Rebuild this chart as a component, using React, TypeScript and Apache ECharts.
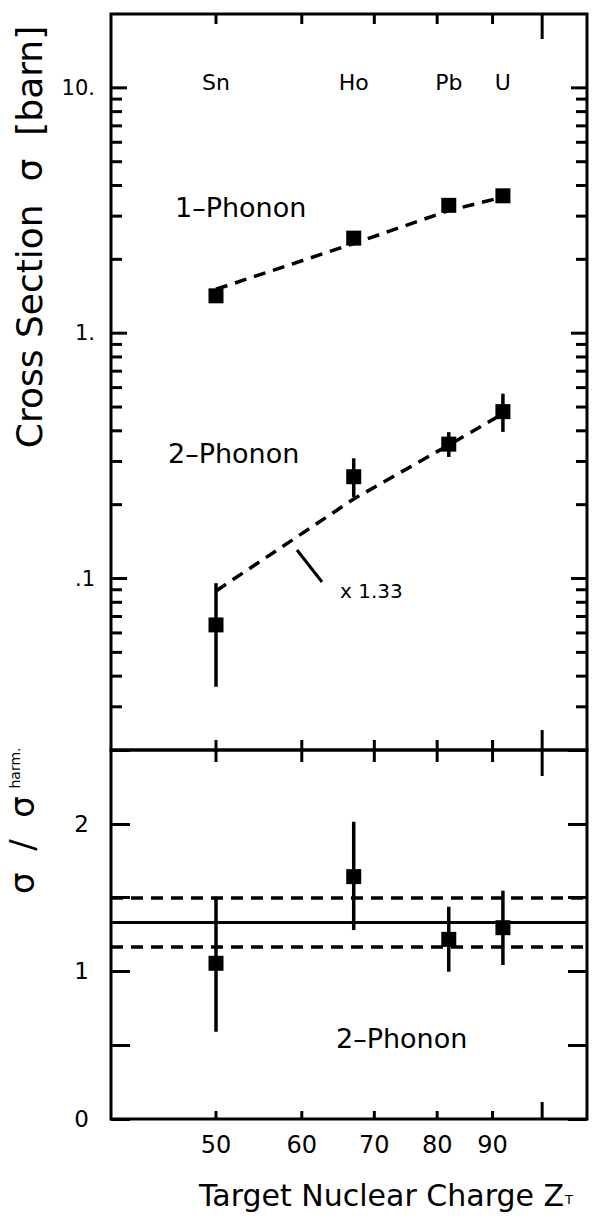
import React, { useEffect, useRef } from 'react';
import * as echarts from 'echarts';

// ---------------- data ----------------
const elements = ['Sn', 'Ho', 'Pb', 'U'];
const charges = [50, 67, 82, 92];

const onePhonon = [1.42, 2.44, 3.32, 3.63];
const onePhononCalc = [1.51, 2.32, 3.16, 3.59];

const twoPhonon = [0.0647, 0.26, 0.353, 0.479];
const twoPhononLow = [0.0362, 0.215, 0.313, 0.396];
const twoPhononHigh = [0.0957, 0.309, 0.395, 0.567];
const twoPhononCalc = [0.089, 0.211, 0.35, 0.47];
const calcFactorLabel = 'x 1.33';

const ratio = [1.055, 1.642, 1.217, 1.296];
const ratioLow = [0.591, 1.28, 0.998, 1.043];
const ratioHigh = [1.506, 2.014, 1.438, 1.547];
const ratioMean = 1.33;
const ratioBandLow = 1.17;
const ratioBandHigh = 1.5;

const zRange = [40, 110];
const zTicks = [50, 60, 70, 80, 90];
const zTickLabels = ['50', '60', '70', '80', '90'];
const zLongTicks = [100];
const sigmaRange = [0.02, 20];
const sigmaMajor = [0.1, 1, 10];
const sigmaMajorLabels = ['.1', '1.', '10.'];
const sigmaMinor = [0.03, 0.04, 0.05, 0.06, 0.07, 0.08, 0.09, 0.2, 0.3, 0.4, 0.5, 0.6, 0.7, 0.8, 0.9, 2, 3, 4, 5, 6, 7, 8, 9];
const ratioRange = [0, 2.5];
const ratioTickStep = 0.5;

// ---------------- styles ----------------
const FONT = 'DejaVu Sans';
const BLACK = '#000';
const STROKE = { stroke: BLACK, lineWidth: 3 };
const DASH = [12, 8];

function vline(x: number, y1: number, y2: number) {
  return { type: 'line', shape: { x1: x, y1, x2: x, y2 }, style: STROKE };
}
function hline(y: number, x1: number, x2: number) {
  return { type: 'line', shape: { x1, y1: y, x2, y2: y }, style: STROKE };
}
function txt(x: number, y: number, text: string, size: number, align = 'center', valign = 'middle') {
  return {
    type: 'text',
    x,
    y,
    style: {
      text,
      fill: BLACK,
      font: `${size}px "${FONT}"`,
      textAlign: align,
      textVerticalAlign: valign,
      align,
      verticalAlign: valign,
    },
  };
}

export default function App() {
  const ref = useRef<HTMLDivElement>(null);

  useEffect(() => {
    if (!ref.current) return;
    const chart = echarts.init(ref.current, undefined, { renderer: 'svg' });

    const hiddenAxis = {
      axisLine: { show: false },
      axisTick: { show: false },
      axisLabel: { show: false },
      splitLine: { show: false },
    };

    const xTickData = [
      ...zTicks.map((z, i) => [z, 1, 0, i]),
      ...zLongTicks.map((z) => [z, 1, 1, -1]),
    ];

    const markStyle = { color: BLACK, opacity: 1 };

    const option: any = {
      animation: false,
      backgroundColor: '#fff',
      grid: [
        { left: 111, top: 14, width: 476, height: 736, show: true, borderColor: BLACK, borderWidth: 3, backgroundColor: 'transparent' },
        { left: 111, top: 750, width: 476, height: 369, show: true, borderColor: BLACK, borderWidth: 3, backgroundColor: 'transparent' },
      ],
      xAxis: [
        { type: 'log', logBase: 10, gridIndex: 0, min: zRange[0], max: zRange[1], ...hiddenAxis },
        { type: 'log', logBase: 10, gridIndex: 1, min: zRange[0], max: zRange[1], ...hiddenAxis },
      ],
      yAxis: [
        { type: 'log', logBase: 10, gridIndex: 0, min: sigmaRange[0], max: sigmaRange[1], ...hiddenAxis },
        {
          type: 'value', gridIndex: 1, min: ratioRange[0], max: ratioRange[1], interval: ratioTickStep,
          axisLine: { show: false },
          splitLine: { show: false },
          axisTick: { show: true, inside: true, length: 19, lineStyle: { color: BLACK, width: 3 } },
          axisLabel: {
            show: true, margin: 22, color: BLACK, fontSize: 23, fontFamily: FONT,
            formatter: (v: number) => (Math.abs(v - Math.round(v)) < 1e-9 && v < ratioRange[1] ? String(Math.round(v)) : ''),
          },
        },
        {
          type: 'value', gridIndex: 1, position: 'right', min: ratioRange[0], max: ratioRange[1], interval: ratioTickStep,
          axisLine: { show: false },
          splitLine: { show: false },
          axisTick: { show: true, inside: true, length: 19, lineStyle: { color: BLACK, width: 3 } },
          axisLabel: { show: false },
        },
      ],
      series: [
        // upper panel: x ticks on top frame and on the dividing frame
        {
          type: 'custom', xAxisIndex: 0, yAxisIndex: 0, silent: true, z: 5,
          data: xTickData,
          renderItem: (_p: any, api: any) => {
            const z = api.value(0);
            const long = api.value(2) === 1;
            const t = api.coord([z, sigmaRange[1]]);
            const b = api.coord([z, sigmaRange[0]]);
            return {
              type: 'group',
              children: [
                vline(t[0], t[1], t[1] + (long ? 25 : 10)),
                vline(b[0], b[1] - (long ? 20 : 10), b[1] + (long ? 26 : 12)),
              ],
            };
          },
        },
        // upper panel: log y ticks left/right and labels
        {
          type: 'custom', xAxisIndex: 0, yAxisIndex: 0, silent: true, z: 5,
          data: [
            ...sigmaMinor.map((v) => [zRange[0], v, 0, -1]),
            ...sigmaMajor.map((v, i) => [zRange[0], v, 1, i]),
          ],
          renderItem: (_p: any, api: any) => {
            const v = api.value(1);
            const major = api.value(2) === 1;
            const idx = api.value(3);
            const l = api.coord([zRange[0], v]);
            const r = api.coord([zRange[1], v]);
            const len = major ? 16 : 11;
            const children: any[] = [hline(l[1], l[0], l[0] + len), hline(r[1], r[0] - len, r[0])];
            if (major && idx >= 0) children.push(txt(l[0] - 16, l[1], sigmaMajorLabels[idx], 21, 'right'));
            return { type: 'group', children };
          },
        },
        // element names
        {
          type: 'custom', xAxisIndex: 0, yAxisIndex: 0, silent: true, z: 5,
          data: charges.map((z, i) => [z, 1, i]),
          renderItem: (_p: any, api: any) => {
            const z = api.value(0);
            const i = api.value(2);
            const t = api.coord([z, sigmaRange[1]]);
            return txt(t[0], t[1] + 68, elements[i], 22);
          },
        },
        // lower panel: x ticks and labels
        {
          type: 'custom', xAxisIndex: 1, yAxisIndex: 1, silent: true, z: 5,
          data: xTickData.map((d) => [d[0], 0, d[2], d[3]]),
          renderItem: (_p: any, api: any) => {
            const z = api.value(0);
            const long = api.value(2) === 1;
            const idx = api.value(3);
            const p = api.coord([z, ratioRange[0]]);
            const children: any[] = [vline(p[0], p[1] - (long ? 17 : 8), p[1])];
            if (idx >= 0) children.push(txt(p[0], p[1] + 26, zTickLabels[idx], 24));
            return { type: 'group', children };
          },
        },
        // 1-phonon calc
        {
          type: 'line', xAxisIndex: 0, yAxisIndex: 0, symbol: 'none', silent: true, z: 2,
          data: charges.map((z, i) => [z, onePhononCalc[i]]),
          lineStyle: { color: BLACK, width: 3.5, type: DASH, opacity: 1 },
        },
        // 2-phonon calc (x 1.33)
        {
          type: 'line', xAxisIndex: 0, yAxisIndex: 0, symbol: 'none', silent: true, z: 2,
          data: charges.map((z, i) => [z, twoPhononCalc[i]]),
          lineStyle: { color: BLACK, width: 3.5, type: DASH, opacity: 1 },
        },
        // 2-phonon error bars
        {
          type: 'custom', xAxisIndex: 0, yAxisIndex: 0, silent: true, z: 3,
          data: charges.map((z, i) => [z, twoPhononLow[i], twoPhononHigh[i]]),
          renderItem: (_p: any, api: any) => {
            const lo = api.coord([api.value(0), api.value(1)]);
            const hi = api.coord([api.value(0), api.value(2)]);
            return { type: 'line', shape: { x1: lo[0], y1: lo[1], x2: hi[0], y2: hi[1] }, style: { stroke: BLACK, lineWidth: 3.5 } };
          },
        },
        // 1-phonon data
        {
          type: 'scatter', xAxisIndex: 0, yAxisIndex: 0, symbol: 'rect', symbolSize: 15, z: 4,
          itemStyle: markStyle,
          data: charges.map((z, i) => [z, onePhonon[i]]),
        },
        // 2-phonon data
        {
          type: 'scatter', xAxisIndex: 0, yAxisIndex: 0, symbol: 'rect', symbolSize: 15, z: 4,
          itemStyle: markStyle,
          data: charges.map((z, i) => [z, twoPhonon[i]]),
        },
        // ratio error bars
        {
          type: 'custom', xAxisIndex: 1, yAxisIndex: 1, silent: true, z: 3,
          data: charges.map((z, i) => [z, ratioLow[i], ratioHigh[i]]),
          renderItem: (_p: any, api: any) => {
            const lo = api.coord([api.value(0), api.value(1)]);
            const hi = api.coord([api.value(0), api.value(2)]);
            return { type: 'line', shape: { x1: lo[0], y1: lo[1], x2: hi[0], y2: hi[1] }, style: { stroke: BLACK, lineWidth: 3.5 } };
          },
        },
        // ratio data + mean and band lines
        {
          type: 'scatter', xAxisIndex: 1, yAxisIndex: 1, symbol: 'rect', symbolSize: 15, z: 4,
          itemStyle: markStyle,
          data: charges.map((z, i) => [z, ratio[i]]),
          markLine: {
            silent: true, symbol: 'none', label: { show: false },
            data: [
              { yAxis: ratioMean, lineStyle: { color: BLACK, width: 3, type: 'solid', opacity: 1 } },
              { yAxis: ratioBandHigh, lineStyle: { color: BLACK, width: 3.5, type: DASH, opacity: 1 } },
              { yAxis: ratioBandLow, lineStyle: { color: BLACK, width: 3.5, type: DASH, opacity: 1 } },
            ],
          },
        },
      ],
      graphic: [
        { ...txt(175, 207, '1–Phonon', 27, 'left'), z: 10 },
        { ...txt(168, 453, '2–Phonon', 27, 'left'), z: 10 },
        { ...txt(336, 1038, '2–Phonon', 27, 'left'), z: 10 },
        { ...txt(340, 591, calcFactorLabel, 20, 'left'), z: 10 },
        { type: 'line', shape: { x1: 297, y1: 550, x2: 322, y2: 582 }, style: { stroke: BLACK, lineWidth: 3 }, z: 10 },
        { ...txt(29, 237, 'Cross Section  σ  [barn]', 36), rotation: Math.PI / 2, z: 10 },
        { ...txt(22, 845, 'σ  /  σ', 34), rotation: Math.PI / 2, z: 10 },
        { ...txt(15, 768, 'harm.', 14), rotation: Math.PI / 2, z: 10 },
        {
          type: 'text', x: 386, y: 1195, z: 10,
          style: {
            text: 'Target Nuclear Charge Z{s|T}',
            fill: BLACK,
            font: `30px "${FONT}"`,
            textAlign: 'center', textVerticalAlign: 'middle', align: 'center', verticalAlign: 'middle',
            rich: { s: { fontSize: 13, fontFamily: FONT, fill: BLACK, verticalAlign: 'bottom', padding: [0, 0, 4, 1] } },
          },
        },
      ],
    };

    chart.setOption(option);
    return () => chart.dispose();
  }, []);

  return (
    <div
      ref={ref}
      style={{ position: 'fixed', left: 0, top: 0, width: 603, height: 1222, background: '#fff' }}
    />
  );
}
